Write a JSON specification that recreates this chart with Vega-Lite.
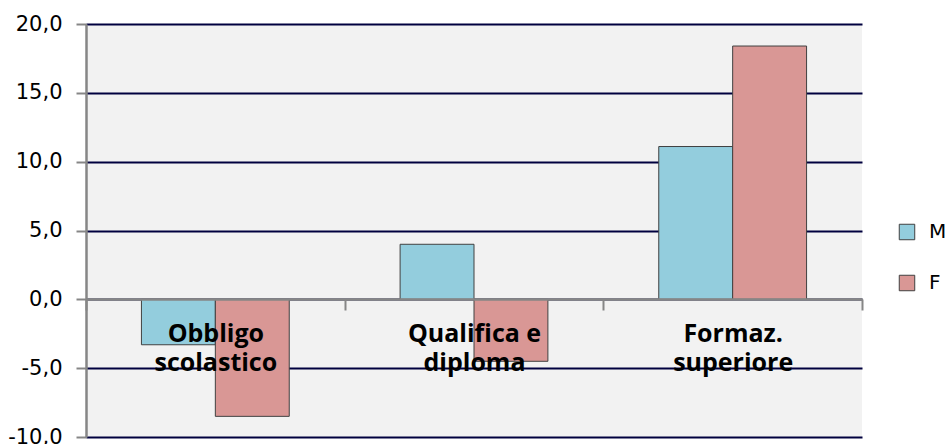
{
  "$schema": "https://vega.github.io/schema/vega-lite/v6.json",
  "width": 776,
  "height": 413,
  "autosize": "none",
  "padding": {"left": 86, "top": 24, "right": 87, "bottom": 7},
  "background": "white",
  "config": {"view": {"fill": "#f2f2f2", "stroke": null}},
  "data": {
    "values": [
      {"categoria": "Obbligo scolastico", "sesso": "M", "valore": -3.3},
      {"categoria": "Obbligo scolastico", "sesso": "F", "valore": -8.5},
      {"categoria": "Qualifica e diploma", "sesso": "M", "valore": 4.0},
      {"categoria": "Qualifica e diploma", "sesso": "F", "valore": -4.5},
      {"categoria": "Formaz. superiore", "sesso": "M", "valore": 11.1},
      {"categoria": "Formaz. superiore", "sesso": "F", "valore": 18.4}
    ]
  },
  "mark": {"type": "bar", "stroke": "#404040", "strokeWidth": 1},
  "encoding": {
    "x": {
      "field": "categoria",
      "type": "nominal",
      "sort": null,
      "scale": {"paddingInner": 0, "paddingOuter": 0},
      "axis": {
        "title": null,
        "orient": "bottom",
        "offset": -138,
        "zindex": 1,
        "labelAngle": 0,
        "domainColor": "#868686",
        "domainWidth": 2.5,
        "tickColor": "#868686",
        "tickWidth": 2,
        "tickSize": 11,
        "tickBand": "extent",
        "labelFont": "Open Sans",
        "labelFontSize": 25,
        "labelFontWeight": "bold",
        "labelColor": "#000000",
        "labelPadding": 11,
        "labelLineHeight": 29,
        "labelExpr": "datum.label == 'Qualifica e diploma' ? ['Qualifica e', 'diploma'] : split(datum.label, ' ')"
      }
    },
    "xOffset": {
      "field": "sesso",
      "type": "nominal",
      "sort": ["M", "F"],
      "scale": {"paddingInner": 0, "paddingOuter": 0.75}
    },
    "y": {
      "field": "valore",
      "type": "quantitative",
      "scale": {"domain": [-10, 20], "nice": false, "zero": false},
      "axis": {
        "title": null,
        "values": [-10, -5, 0, 5, 10, 15, 20],
        "labelExpr": "replace(replace(format(datum.value, '.1f'), '.', ','), '\u2212', '-')",
        "labelFont": "DejaVu Sans",
        "labelFontSize": 21,
        "labelColor": "#000000",
        "labelPadding": 14,
        "domainColor": "#868686",
        "domainWidth": 2.5,
        "tickColor": "#868686",
        "tickWidth": 2,
        "tickSize": 10,
        "grid": true,
        "gridColor": "#00003f",
        "gridWidth": 2
      }
    },
    "color": {
      "field": "sesso",
      "type": "nominal",
      "sort": ["M", "F"],
      "scale": {"domain": ["M", "F"], "range": ["#93cddd", "#d99795"]},
      "legend": {
        "title": null,
        "orient": "none",
        "legendX": 811,
        "legendY": 198,
        "padding": 0,
        "symbolType": "square",
        "symbolSize": 240,
        "symbolStrokeColor": "#404040",
        "symbolStrokeWidth": 1,
        "symbolOpacity": 1,
        "labelFont": "DejaVu Sans",
        "labelFontSize": 20,
        "labelColor": "#000000",
        "labelOffset": 12,
        "rowPadding": 31
      }
    }
  }
}
